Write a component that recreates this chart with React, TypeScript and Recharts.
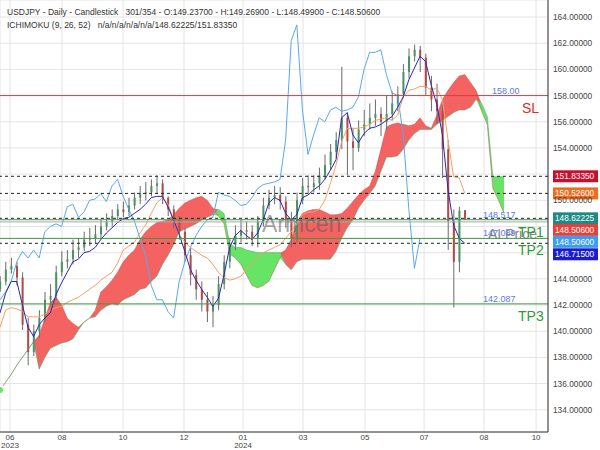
import React from "react";
import {
  ComposedChart,
  Area,
  Bar,
  Line,
  XAxis,
  YAxis,
  CartesianGrid,
  ReferenceLine,
} from "recharts";

// bar number (sessions from the first bar on screen), one row every 4 sessions
const barIndex = [
  0, 4, 8, 12, 16, 20, 24, 28, 32, 36, 40, 44, 48, 52, 56, 60, 64, 68, 72, 76,
  80, 84, 88, 92, 96, 100, 104, 108, 112, 116, 120, 124, 128, 132, 136, 140,
  144, 148, 152, 156, 160, 164, 168, 172, 176, 180, 184, 188, 192, 196, 200,
  204, 208, 212, 216, 220, 224, 228, 232, 236, 240, 244, 248, 252, 256, 260,
  264, 268, 272, 276, 280, 284, 288, 292, 296, 300, 304, 308, 312, 316, 320,
  324, 328, 332, 336, 340, 344, 348, 352, 356, 360,
];

// candles (one per 4 sessions)
const candleOpen = [
  143.2, 143.8, 144.7, 145.0, 144.1, 140.5, 138.4, 140.0, 141.0, 142.4,
  142.7, 144.5, 145.3, 145.5, 146.2, 146.4, 147.0, 147.1, 147.4, 148.0,
  148.4, 148.8, 149.3, 149.1, 149.6, 150.2, 150.5, 150.6, 151.1, 151.3,
  150.2, 149.3, 148.5, 147.6, 145.8, 144.3, 143.2, 142.4, 141.5, 142.0,
  143.6, 145.3, 146.6, 147.3, 147.7, 147.6, 147.1, 148.4, 149.6, 150.2,
  150.4, 149.9, 148.5, 147.1, 150.0, 151.1, 151.0, 151.3, 151.9, 152.7,
  153.7, 154.6, 156.3, 154.5, 154.0, 155.4, 155.8, 156.3, 156.6, 156.0,
  156.6, 157.4, 158.1, 159.8, 161.0, 161.5, 160.9, 158.6, 157.7, 156.8,
  153.9, 148.4, 145.3, 149.237,
];
const candleHigh = [
  144.2, 145.3, 145.6, 145.3, 144.5, 141.0, 140.5, 141.6, 143.0, 143.6,
  145.0, 146.1, 146.2, 147.0, 147.1, 147.6, 147.9, 148.1, 148.5, 149.0,
  149.3, 149.7, 149.9, 150.2, 150.6, 151.1, 151.4, 151.6, 151.9, 151.6,
  150.3, 149.6, 148.8, 147.9, 146.4, 144.7, 143.8, 143.0, 142.7, 144.2,
  145.8, 147.1, 148.1, 148.5, 148.4, 148.1, 148.8, 150.2, 150.8, 151.1,
  151.0, 150.3, 149.1, 150.6, 151.7, 151.9, 151.9, 152.5, 153.5, 154.3,
  155.2, 160.2, 156.7, 155.5, 156.1, 156.9, 157.4, 157.7, 157.1, 158.0,
  158.3, 158.7, 160.4, 161.6, 161.9, 161.8, 161.2, 159.5, 158.9, 157.3,
  154.6, 149.3, 149.5, 149.269,
];
const candleLow = [
  143.0, 143.5, 144.4, 143.5, 140.1, 137.4, 138.1, 139.5, 140.7, 142.0,
  142.4, 144.2, 144.8, 145.1, 145.6, 146.1, 146.5, 146.7, 147.0, 147.7,
  148.0, 148.5, 148.7, 148.8, 149.3, 149.7, 150.0, 150.3, 150.5, 149.7,
  148.8, 147.9, 147.0, 145.3, 143.5, 142.4, 141.5, 140.7, 140.3, 141.6,
  143.2, 144.8, 146.2, 146.8, 147.0, 146.5, 146.4, 148.0, 149.3, 149.7,
  149.3, 147.9, 146.4, 146.8, 149.7, 150.5, 150.6, 150.8, 151.6, 152.3,
  153.2, 153.9, 151.9, 152.3, 153.7, 154.9, 155.4, 155.7, 154.9, 155.4,
  156.1, 156.8, 157.8, 159.3, 160.6, 159.8, 158.0, 156.8, 155.8, 151.7,
  146.2, 141.8, 144.5, 148.499,
];
const candleClose = [
  143.8, 144.7, 145.0, 144.1, 140.5, 138.4, 140.0, 141.0, 142.4, 142.7,
  144.5, 145.3, 145.5, 146.2, 146.4, 147.0, 147.1, 147.4, 148.0, 148.4,
  148.8, 149.3, 149.1, 149.6, 150.2, 150.5, 150.6, 151.1, 151.3, 150.2,
  149.3, 148.5, 147.6, 145.8, 144.3, 143.2, 142.4, 141.5, 142.0, 143.6,
  145.3, 146.6, 147.3, 147.7, 147.6, 147.1, 148.4, 149.6, 150.2, 150.4,
  149.9, 148.5, 147.1, 150.0, 151.1, 151.0, 151.3, 151.9, 152.7, 153.7,
  154.6, 156.3, 154.5, 154.0, 155.4, 155.8, 156.3, 156.6, 156.0, 156.6,
  157.4, 158.1, 159.8, 161.0, 161.5, 160.9, 158.6, 157.7, 156.8, 153.9,
  148.4, 145.3, 149.2, 148.506,
];

// ichimoku lines
const tenkan = [
  141.4, 142.9, 143.8, 143.8, 142.0, 140.3, 139.6, 140.5, 141.0, 141.4,
  142.8, 143.7, 144.5, 145.3, 145.5, 146.0, 146.1, 146.4, 147.0, 147.5,
  147.9, 148.3, 148.6, 148.7, 149.0, 149.3, 149.7, 150.2, 150.3, 150.3,
  149.5, 148.5, 147.4, 146.1, 144.7, 143.9, 143.2, 142.6, 141.9, 142.5,
  144.3, 146.4, 147.3, 147.7, 147.3, 147.0, 147.5, 148.5, 149.8, 150.2,
  150.0, 149.0, 148.5, 148.9, 150.2, 150.4, 150.8, 151.1, 151.6, 152.3,
  153.1, 156.3, 156.7, 155.0, 154.4, 155.1, 155.5, 155.6, 155.8, 156.1,
  156.4, 157.1, 157.9, 159.2, 160.1, 161.0, 160.6, 158.8, 157.3, 155.0,
  150.8, 148.1, 147.1, 146.715,
];
const kijun = [
  140.3, 141.6, 141.8, 141.7, 141.5, 141.1, 141.1, 141.1, 141.3, 141.6,
  141.8, 141.9, 142.2, 142.4, 142.6, 142.9, 143.2, 143.5, 143.9, 144.2,
  144.5, 145.2, 146.2, 146.5, 146.8, 147.5, 148.1, 149.0, 149.8, 150.2,
  149.7, 148.5, 147.4, 146.8, 146.4, 146.1, 145.8, 145.6, 145.1, 144.5,
  144.1, 143.9, 144.0, 144.2, 144.7, 145.2, 145.7, 146.0, 146.2, 146.4,
  146.6, 147.1, 147.6, 148.2, 148.9, 149.1, 149.1, 149.3, 150.0, 151.3,
  152.7, 154.5, 155.5, 155.5, 155.5, 155.6, 155.8, 156.1, 156.2, 156.3,
  156.1, 156.5, 157.9, 158.4, 158.5, 158.7, 158.7, 158.4, 158.6, 157.7,
  154.6, 151.8, 151.7, 150.526,
];
const chikou = [
  142.4, 143.0, 143.8, 145.3, 146.1, 145.6, 146.2, 145.6, 147.6, 148.0,
  148.2, 148.0, 149.5, 149.7, 148.7, 149.1, 150.0, 150.1, 150.5, 149.9,
  151.1, 151.6, 150.3, 149.3, 148.4, 147.1, 145.8, 143.5, 142.4, 142.4,
  141.5, 141.0, 143.8, 145.3, 146.4, 147.3, 148.0, 148.5, 148.7, 150.6,
  150.4, 150.3, 150.0, 149.6, 149.7, 150.2, 150.9, 151.2, 151.3, 151.4,
  151.6, 154.6, 162.2, 163.4, 156.9, 153.5, 155.0, 156.3, 156.0, 156.9,
  157.1, 156.8, 156.9, 157.1, 157.9, 160.0, 161.3, 161.3, 161.5, 159.6,
  158.2, 158.0, 155.0, 149.3, 144.8, 147.1,
];
const senkouA = [
  135.5, 136.1, 136.7, 137.4, 138.0, 138.6, 139.2, 137.1, 138.0, 138.7,
  138.9, 139.1, 139.2, 139.4, 140.1, 140.7, 141.0, 141.1, 141.6, 141.9,
  142.1, 142.0, 142.4, 142.6, 142.8, 143.2, 143.3, 143.8, 144.2, 145.1,
  145.8, 146.6, 147.6, 147.8, 148.0, 148.2, 148.5, 148.7, 148.9, 149.3,
  149.0, 146.7, 146.4, 146.4, 146.2, 146.1, 146.0, 146.0, 146.0, 146.0,
  146.0, 145.1, 144.7, 145.3, 145.5, 145.5, 145.5, 145.5, 145.5, 145.5,
  146.1, 147.1, 147.9, 148.5, 149.4, 150.0, 150.5, 151.1, 152.2, 153.3,
  153.3, 153.4, 153.9, 154.6, 155.1, 155.4, 155.4, 155.4, 155.8, 156.1,
  156.4, 156.7, 156.9, 156.9, 157.1, 157.7, 157.4, 156.4, 151.8, 151.8,
  151.8,
];
const senkouB = [
  135.5, 136.1, 136.7, 137.4, 138.0, 138.6, 139.2, 139.7, 141.0, 142.2,
  142.6, 142.0, 141.0, 140.6, 140.3, 140.7, 141.0, 141.6, 143.0, 143.4,
  143.9, 144.5, 145.3, 145.8, 146.2, 147.0, 147.6, 148.0, 148.3, 148.4,
  148.5, 148.9, 149.4, 149.8, 150.0, 150.2, 150.3, 150.0, 149.4, 148.8,
  148.2, 145.9, 145.6, 145.1, 144.3, 143.5, 143.3, 143.5, 143.8, 144.7,
  145.6, 146.2, 147.0, 148.3, 149.0, 149.2, 149.3, 149.3, 149.1, 148.9,
  148.9, 149.0, 149.4, 149.9, 150.4, 150.8, 151.1, 152.2, 153.9, 155.6,
  155.8, 155.9, 155.8, 155.7, 155.8, 156.3, 155.7, 155.5, 156.5, 157.7,
  158.4, 159.0, 159.5, 159.6, 159.0, 158.4, 156.8, 155.8, 150.9, 150.0,
  149.0,
];

// axes
const monthTicks = [7.1, 44.3, 87.9, 131.4, 173.6, 216.4, 260.7, 302.9, 345.7, 382.9];
const monthLabels = [
  ["06", "2023"], ["08"], ["10"], ["12"], ["01", "2024"],
  ["03"], ["05"], ["07"], ["08"], ["10"],
];
const priceTicks = [134, 136, 138, 140, 142, 144, 146, 148, 150, 152, 154, 156, 158, 160, 162, 164];
const unlabelledTicks = [146, 148, 152];

const FONT = "'Liberation Sans', Arial, sans-serif";

const rows = barIndex.map((t, i) => ({
  t,
  open: candleOpen[i] ?? null,
  high: candleHigh[i] ?? null,
  low: candleLow[i] ?? null,
  close: candleClose[i] ?? null,
  tenkan: tenkan[i] ?? null,
  kijun: kijun[i] ?? null,
  chikou: chikou[i] ?? null,
  spanA: senkouA[i],
  spanB: senkouB[i],
}));

const redCloud = (d: any) => (d.spanB >= d.spanA ? [d.spanA, d.spanB] : [d.spanA, d.spanA]);
const greenCloud = (d: any) => (d.spanA > d.spanB ? [d.spanB, d.spanA] : [d.spanA, d.spanA]);
const candleRange = (d: any) => (d.high == null ? null : [d.low, d.high]);

const Candle = (props: any) => {
  const { x, y, width, height, payload } = props;
  if (!payload || payload.high == null || height == null) return null;
  const top = height < 0 ? y + height : y;
  const h = Math.abs(height);
  const k = h / (payload.high - payload.low || 1);
  const yo = top + (payload.high - payload.open) * k;
  const yc = top + (payload.high - payload.close) * k;
  const up = payload.close >= payload.open;
  const cx = x + width / 2;
  return (
    <g>
      <line x1={cx} x2={cx} y1={top} y2={top + h} stroke="#6a6a6a" strokeWidth={1} />
      <rect
        x={x}
        y={Math.min(yo, yc)}
        width={width}
        height={Math.max(1, Math.abs(yc - yo))}
        fill={up ? "#4a9462" : "#b34a43"}
      />
    </g>
  );
};

const PriceTick = ({ x, y, payload }: any) => {
  if (unlabelledTicks.includes(payload.value)) return null;
  return (
    <text x={x} y={y + 3} fontSize={8.3} fill="#444" fontFamily={FONT} textAnchor="start">
      {Number(payload.value).toFixed(5)}
    </text>
  );
};

const MonthTick = ({ x, y, payload }: any) => {
  const idx = monthTicks.indexOf(payload.value);
  const lines = monthLabels[idx] || [];
  return (
    <g>
      {lines.map((s, i) => (
        <text key={i} x={x} y={y + 8 + i * 7.5} fontSize={8} fill="#444" fontFamily={FONT} textAnchor="middle">
          {s}
        </text>
      ))}
    </g>
  );
};

type Note = { text: string; dx: number; dy: number; color: string; size: number };
type Tag = { text: string; color: string; dy: number };

const LevelMarks = ({ viewBox, notes = [], tags = [] }: { viewBox?: any; notes?: Note[]; tags?: Tag[] }) => {
  if (!viewBox) return null;
  const { x, y, width } = viewBox;
  const right = x + width + 5;
  return (
    <g>
      {notes.map((n, i) => (
        <text key={"n" + i} x={x + n.dx} y={y + n.dy} fill={n.color} fontSize={n.size} fontFamily={FONT}>
          {n.text}
        </text>
      ))}
      {tags.map((t, i) => (
        <g key={"t" + i}>
          <rect x={right} y={y + t.dy - 6} width={45} height={12} fill={t.color} />
          <text x={right + 2} y={y + t.dy + 3} fill="#fff" fontSize={8.3} fontFamily={FONT}>
            {t.text}
          </text>
        </g>
      ))}
    </g>
  );
};

const BLUE_NOTE = "#5a7be0";
const TP_GREEN = "#2f9a35";

export default function App() {
  return (
    <div style={{ position: "absolute", left: 0, top: 0, width: 600, height: 450, background: "#fff" }}>
      <ComposedChart width={600} height={450} data={rows} margin={{ top: 0, right: 0, bottom: 0, left: 0 }}>
        <CartesianGrid stroke="#e4e4e4" />
        <XAxis
          type="number"
          dataKey="t"
          domain={[0, 391.4]}
          ticks={monthTicks}
          interval={0}
          allowDataOverflow
          height={18}
          tick={<MonthTick />}
          tickLine={false}
          tickSize={0}
          tickMargin={0}
          axisLine={{ stroke: "#333" }}
        />
        <YAxis
          orientation="right"
          domain={[132.3, 165.3]}
          ticks={priceTicks}
          interval={0}
          allowDataOverflow
          width={52}
          tick={<PriceTick />}
          tickLine={false}
          tickSize={0}
          tickMargin={5}
          axisLine={{ stroke: "#333" }}
        />

        <Area dataKey={redCloud} type="linear" stroke="none" fill="#f46262" fillOpacity={1} isAnimationActive={false} />
        <Area dataKey={greenCloud} type="linear" stroke="none" fill="#66e466" fillOpacity={1} isAnimationActive={false} />
        <Line dataKey="spanB" type="linear" stroke="#c0584c" strokeOpacity={0.6} strokeWidth={0.8} dot={false} activeDot={false} isAnimationActive={false} />
        <Line dataKey="spanA" type="linear" stroke="#4aa86a" strokeOpacity={0.7} strokeWidth={0.8} dot={false} activeDot={false} isAnimationActive={false} />

        <Bar dataKey={candleRange} barSize={2} shape={<Candle />} isAnimationActive={false} />

        <Line dataKey="chikou" type="linear" stroke="#5aa8ee" strokeWidth={1} dot={false} activeDot={false} isAnimationActive={false} />
        <Line dataKey="kijun" type="linear" stroke="#f4a262" strokeWidth={1} dot={false} activeDot={false} isAnimationActive={false} />
        <Line dataKey="tenkan" type="linear" stroke="#2a26b8" strokeWidth={1} dot={false} activeDot={false} isAnimationActive={false} />

        <ReferenceLine
          y={158}
          stroke="#e23b3b"
          label={
            <LevelMarks
              notes={[
                { text: "158.00", dx: 492, dy: -2, color: BLUE_NOTE, size: 9 },
                { text: "SL", dx: 522, dy: 17, color: "#e02828", size: 14 },
              ]}
            />
          }
        />
        <ReferenceLine y={151.8335} stroke="#222" strokeDasharray="3 3" label={<LevelMarks tags={[{ text: "151.83350", color: "#c8102e", dy: 0 }]} />} />
        <ReferenceLine y={150.526} stroke="#222" strokeDasharray="3 3" label={<LevelMarks tags={[{ text: "150.52600", color: "#f26b1d", dy: 0 }]} />} />
        <ReferenceLine
          y={148.35}
          stroke="#a8a8a8"
          label={<LevelMarks notes={[{ text: "AI Price", dx: 488, dy: 17, color: "#8a8a8a", size: 14 }]} />}
        />
        <ReferenceLine y={148.62225} stroke="#222" strokeDasharray="3 3" label={<LevelMarks tags={[{ text: "148.62225", color: "#1e8a86", dy: 0 }]} />} />
        <ReferenceLine
          y={148.517}
          stroke="#4a9e4a"
          label={
            <LevelMarks
              notes={[
                { text: "148.517", dx: 483, dy: -2, color: BLUE_NOTE, size: 9 },
                { text: "TP1", dx: 518, dy: 17, color: TP_GREEN, size: 14 },
              ]}
            />
          }
        />
        <ReferenceLine
          y={148.506}
          stroke="none"
          label={
            <LevelMarks
              tags={[
                { text: "148.50600", color: "#e5403a", dy: 10 },
                { text: "148.50600", color: "#3b9cf0", dy: 22 },
              ]}
            />
          }
        />
        <ReferenceLine
          y={147.089}
          stroke="#3c9a3c"
          label={
            <LevelMarks
              notes={[
                { text: "147.089", dx: 483, dy: -2, color: BLUE_NOTE, size: 9 },
                { text: "TP2", dx: 518, dy: 17, color: TP_GREEN, size: 14 },
              ]}
            />
          }
        />
        <ReferenceLine y={146.715} stroke="#222" strokeDasharray="3 3" label={<LevelMarks tags={[{ text: "146.71500", color: "#1b1bd0", dy: 11 }]} />} />
        <ReferenceLine
          y={142.087}
          stroke="#3c9a3c"
          label={
            <LevelMarks
              notes={[
                { text: "142.087", dx: 483, dy: -2, color: BLUE_NOTE, size: 9 },
                { text: "TP3", dx: 518, dy: 17, color: TP_GREEN, size: 14 },
              ]}
            />
          }
        />
      </ComposedChart>

      <svg width={600} height={450} style={{ position: "absolute", left: 0, top: 0, pointerEvents: "none" }}>
        <text x={7} y={15} fontSize={8.5} fill="#333" fontFamily={FONT} style={{ whiteSpace: "pre" }}>
          {"USDJPY - Daily - Candlestick   301/354 - O:149.23700 - H:149.26900 - L:148.49900 - C:148.50600"}
        </text>
        <text x={7} y={28} fontSize={8.5} fill="#333" fontFamily={FONT} style={{ whiteSpace: "pre" }}>
          {"ICHIMOKU (9, 26, 52)   n/a/n/a/n/a/n/a/148.62225/151.83350"}
        </text>
        <text x={262} y={232} fontSize={23} fill="#5a5a5a" fillOpacity={0.55} fontFamily={FONT}>
          Armcen
        </text>
      </svg>
    </div>
  );
}
